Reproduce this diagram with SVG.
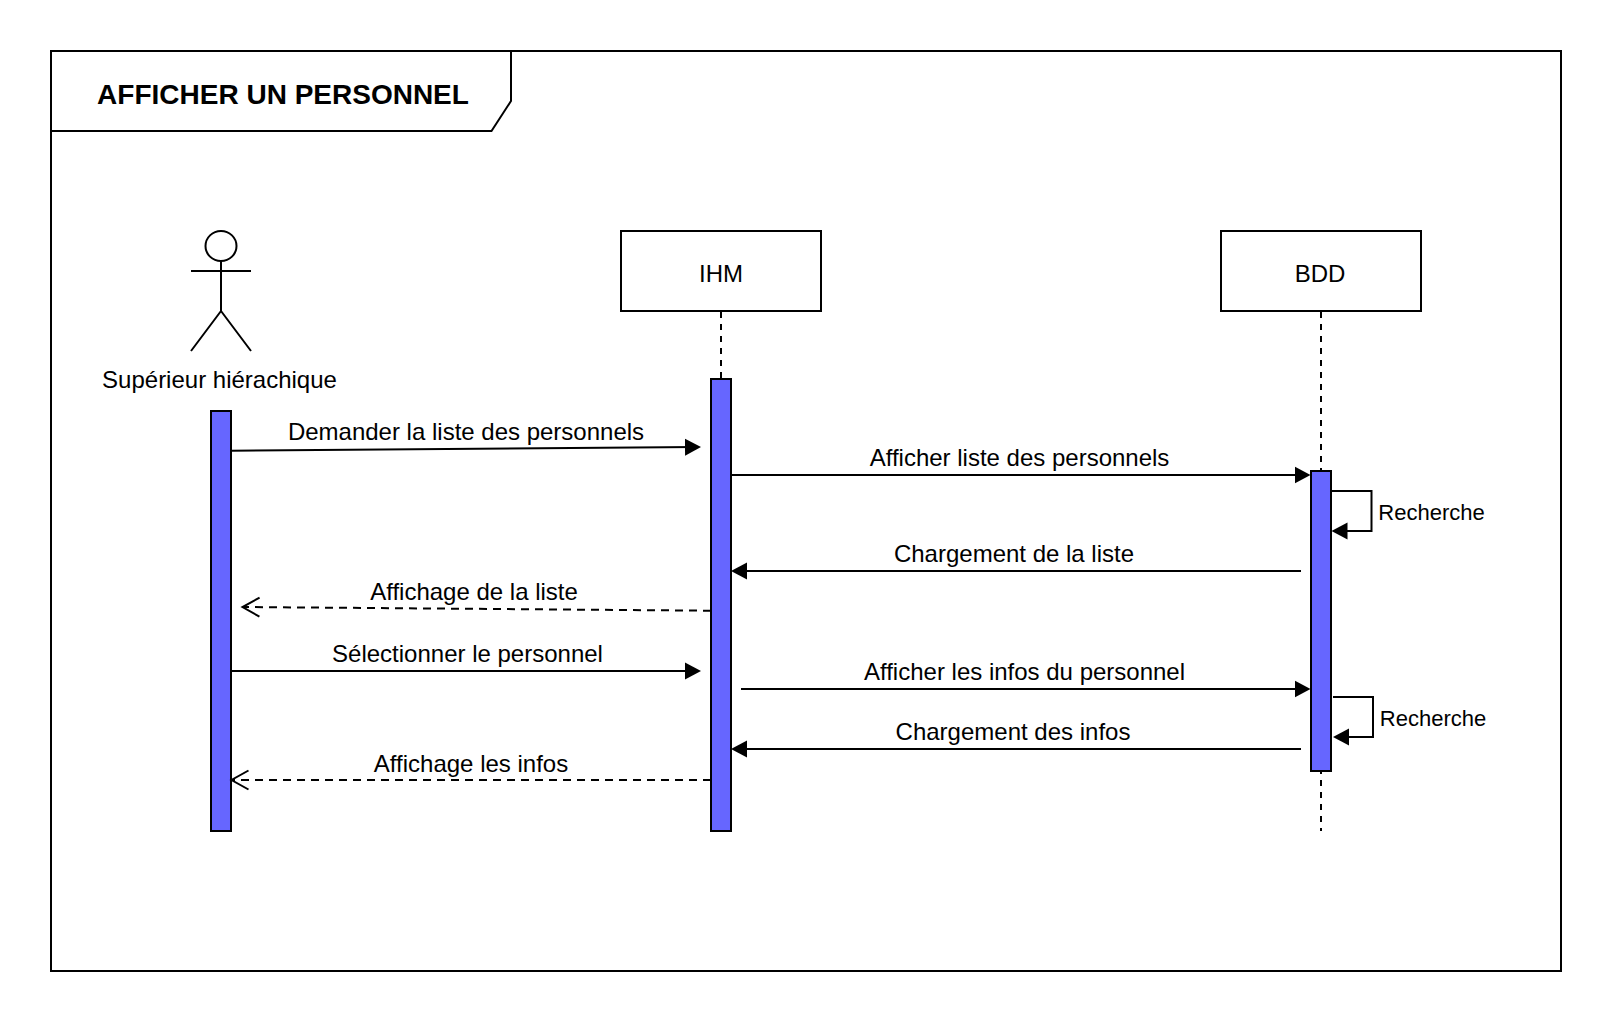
<svg xmlns="http://www.w3.org/2000/svg" width="1612" height="1022" viewBox="0 0 1612 1022">
<style>
text{font-family:"Liberation Sans",Arial,sans-serif;font-size:24px;fill:#000;text-anchor:middle}
.s{fill:none;stroke:#000;stroke-width:2}
.b{fill:#fff;stroke:#000;stroke-width:2}
.a{fill:#6666ff;stroke:#000;stroke-width:2}
.d{stroke-dasharray:6 6}
.c{stroke-dasharray:8 6}
.m{marker-end:url(#solid)}
.o{marker-end:url(#open)}
</style>
<defs>
<marker id="solid" markerUnits="userSpaceOnUse" markerWidth="18" markerHeight="18" refX="12" refY="9" orient="auto"><path d="M0 0.500L16 9L0 17.500Z" fill="#000"/></marker>
<marker id="open" markerUnits="userSpaceOnUse" markerWidth="24" markerHeight="24" refX="20" refY="12" orient="auto"><path d="M3 2.500L20 12L3 21.500" fill="none" stroke="#000" stroke-width="2"/></marker>
</defs>
<rect width="1612" height="1022" fill="#fff"/>
<g id="frame">
<rect class="s" x="51" y="51" width="1510" height="920"/>
<path class="s" d="M51 131H491.500L511 101V51"/>
<text x="283" y="104" style="font-size:28px;font-weight:bold">AFFICHER UN PERSONNEL</text>
</g>
<g id="actor">
<ellipse class="s" cx="221" cy="246" rx="15.500" ry="15"/>
<path class="s" d="M221 261V311M191 271H251M221 311L191 351M221 311L251 351"/>
<text x="219.500" y="388">Supérieur hiérachique</text>
</g>
<g id="ihm"><rect class="b" x="621" y="231" width="200" height="80"/><text x="721" y="282">IHM</text></g>
<g id="bdd"><rect class="b" x="1221" y="231" width="200" height="80"/><text x="1320" y="282">BDD</text></g>
<g id="lifelines">
<path class="s d" d="M721 312V379"/>
<path class="s d" d="M1321 312V831"/>
</g>
<g id="actor-activation"><rect class="a" x="211" y="411" width="20" height="420"/></g>
<g id="ihm-activation"><rect class="a" x="711" y="379" width="20" height="452"/></g>
<g id="bdd-activation"><rect class="a" x="1311" y="471" width="20" height="300"/></g>
<g id="connectors">
<path class="s m" d="M231 450.700L697 447.100"/>
<path class="s m" d="M731 475H1306.500"/>
<path class="s m" d="M1331 491H1371.500V531H1335.500"/>
<path class="s m" d="M1301 571H735"/>
<path class="s c o" d="M711 610.700L242.500 607"/>
<path class="s m" d="M231 671H697"/>
<path class="s m" d="M741 689H1306.500"/>
<path class="s m" d="M1333 697H1373V737H1337"/>
<path class="s m" d="M1301 749H735"/>
<path class="s c o" d="M711 780L231.500 780"/>
</g>
<g id="labels">
<text x="466" y="440">Demander la liste des personnels</text>
<text x="1019.500" y="466">Afficher liste des personnels</text>
<text x="1431.500" y="520" style="font-size:22px">Recherche</text>
<text x="1014" y="562">Chargement de la liste</text>
<text x="474" y="600">Affichage de la liste</text>
<text x="467.500" y="662">Sélectionner le personnel</text>
<text x="1024.500" y="680">Afficher les infos du personnel</text>
<text x="1433" y="726" style="font-size:22px">Recherche</text>
<text x="1013" y="740">Chargement des infos</text>
<text x="471" y="772">Affichage les infos</text>
</g>
</svg>
